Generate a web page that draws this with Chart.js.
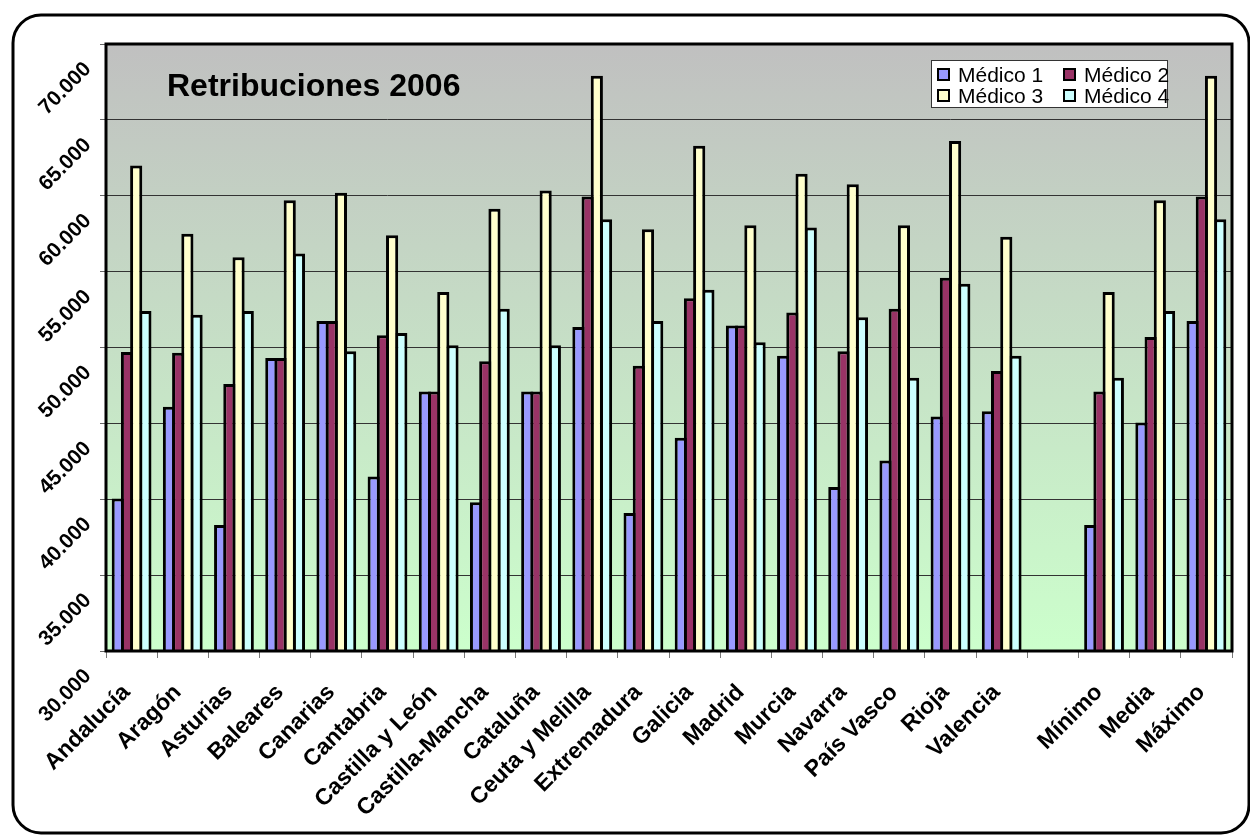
<!DOCTYPE html>
<html>
<head>
<meta charset="utf-8">
<script src="https://cdn.jsdelivr.net/npm/chart.js@4/dist/chart.umd.min.js"></script>
<style>
  body { margin: 0; background: #fff; }
  #wrap { position: relative; width: 1250px; height: 835px; }
  #title {
    position: absolute; left: 167px; top: 70px;
    font: bold 32px/30px "Liberation Sans", Arial, sans-serif; color: #000;
  }
  #legend {
    position: absolute; left: 931px; top: 60px; width: 235px; height: 46px;
    border: 1px solid #333; background: #fff;
    font: 21px/21px "Liberation Sans", Arial, sans-serif; color: #000;
  }
  #legend .item { position: absolute; display: flex; align-items: center; white-space: nowrap; }
  #legend .sw { width: 9px; height: 9px; border: 2px solid #000; margin-right: 8px; }
</style>
</head>
<body>
<div id="wrap">
  <canvas id="chart" width="1250" height="835"></canvas>
  <div id="title">Retribuciones 2006</div>
  <div id="legend"></div>
</div>
<script>
const categories = ['Andalucía', 'Aragón', 'Asturias', 'Baleares', 'Canarias', 'Cantabria',
  'Castilla y León', 'Castilla-Mancha', 'Cataluña', 'Ceuta y Melilla', 'Extremadura', 'Galicia',
  'Madrid', 'Murcia', 'Navarra', 'País Vasco', 'Rioja', 'Valencia', '', 'Mínimo', 'Media', 'Máximo']

const seriesNames = ['Médico 1', 'Médico 2', 'Médico 3', 'Médico 4']
const seriesColors = ['#9999ff', '#993366', '#ffffcc', '#ccffff']

const medico1 = [40050, 46100, 38300, 49300, 51750, 41500, 47100, 39800, 47100, 51350, 39100, 44050,
  51450, 49450, 40800, 42550, 45450, 45800, null, 38300, 45050, 51750]
const medico2 = [49700, 49650, 47600, 49300, 51750, 50800, 47100, 49100, 47100, 59950, 48800, 53250,
  51450, 52300, 49750, 52550, 54600, 48450, null, 47100, 50700, 59950]
const medico3 = [62000, 57500, 55950, 59700, 60200, 57400, 53650, 59150, 60350, 67900, 57800, 63300,
  58050, 61450, 60750, 58050, 63600, 57300, null, 53650, 59700, 67900]
const medico4 = [52400, 52150, 52400, 56200, 49750, 50950, 50150, 52550, 50150, 58450, 51750, 53800,
  50350, 57900, 52000, 48000, 54200, 49450, null, 48000, 52400, 58450]

const yTicks = [30000, 35000, 40000, 45000, 50000, 55000, 60000, 65000, 70000]
const yTickLabels = ['30.000', '35.000', '40.000', '45.000', '50.000', '55.000', '60.000', '65.000', '70.000']

const FONT = '"Liberation Sans", Arial, sans-serif'

// gradient behind the plot, black frame around it, slanted y labels and the rounded outer frame
const frame = {
  id: 'frame',
  beforeDraw(c) {
    const { ctx, chartArea: a } = c
    const g = ctx.createLinearGradient(0, a.top, 0, a.bottom)
    g.addColorStop(0, '#c0c0c0')
    g.addColorStop(1, '#ccffcc')
    ctx.save()
    ctx.fillStyle = g
    ctx.fillRect(a.left, a.top, a.width, a.height)
    ctx.restore()
  },
  afterDraw(c) {
    const { ctx, chartArea: a } = c
    const y = c.scales.y
    ctx.save()
    ctx.strokeStyle = '#000'
    ctx.lineWidth = 3
    ctx.strokeRect(a.left, a.top, a.width, a.height)
    ctx.beginPath()
    ctx.roundRect(13, 15, 1236, 818, 28)
    ctx.stroke()

    ctx.fillStyle = '#000'
    ctx.font = 'bold 21px ' + FONT
    ctx.textAlign = 'right'
    ctx.textBaseline = 'middle'
    yTicks.forEach((v, i) => {
      ctx.save()
      ctx.translate(a.left - 18, y.getPixelForValue(v) + 22)
      ctx.rotate(-Math.PI / 4)
      ctx.fillText(yTickLabels[i], 0, 0)
      ctx.restore()
    })
    ctx.restore()
  }
}

const legend = {
  init() {
    const box = document.querySelector('#legend')
    seriesNames.forEach((name, i) => {
      const item = document.createElement('div')
      item.className = 'item'
      item.style.left = (5 + (i % 2) * 126) + 'px'
      item.style.top = (3 + Math.floor(i / 2) * 21) + 'px'
      const sw = document.createElement('span')
      sw.className = 'sw'
      sw.style.background = seriesColors[i]
      item.appendChild(sw)
      item.appendChild(document.createTextNode(name))
      box.appendChild(item)
    })
  }
}

const chart = {
  init() {
    const ctx = document.querySelector('#chart').getContext('2d')
    const values = [medico1, medico2, medico3, medico4]
    const data = {
      labels: categories,
      datasets: seriesNames.map((name, i) => ({
        label: name,
        data: values[i],
        backgroundColor: seriesColors[i],
        borderColor: '#000',
        borderWidth: 3,
        categoryPercentage: 0.72,
        barPercentage: 1.32
      }))
    }

    this.chart = new Chart(ctx, {
      type: 'bar',
      data: data,
      plugins: [frame],
      options: {
        responsive: false,
        devicePixelRatio: 1,
        animation: false,
        layout: { padding: { left: 0, top: 44, right: 18, bottom: 0 } },
        plugins: { legend: { display: false }, tooltip: { enabled: false } },
        scales: {
          x: {
            grid: { drawOnChartArea: false, drawTicks: true, tickLength: 7, tickColor: '#777', lineWidth: 1 },
            border: { display: false },
            ticks: {
              autoSkip: false, minRotation: 45, maxRotation: 45, padding: 21, labelOffset: -5,
              color: '#000', font: { family: FONT, size: 23, weight: 'bold' }
            },
            afterFit(s) { s.height = 184; s.paddingLeft = 0; s.paddingRight = 0 }
          },
          y: {
            min: yTicks[0],
            max: yTicks[yTicks.length - 1],
            afterBuildTicks(s) { s.ticks = yTicks.map(v => ({ value: v })) },
            grid: { color: '#333', lineWidth: 1, tickLength: 6, tickColor: '#666' },
            border: { display: false },
            ticks: { display: false },
            afterFit(s) { s.width = 106; s.paddingTop = 0; s.paddingBottom = 0 }
          }
        }
      }
    })
  }
}

window.addEventListener('load', e => {
  legend.init()
  chart.init()
})
</script>
</body>
</html>
